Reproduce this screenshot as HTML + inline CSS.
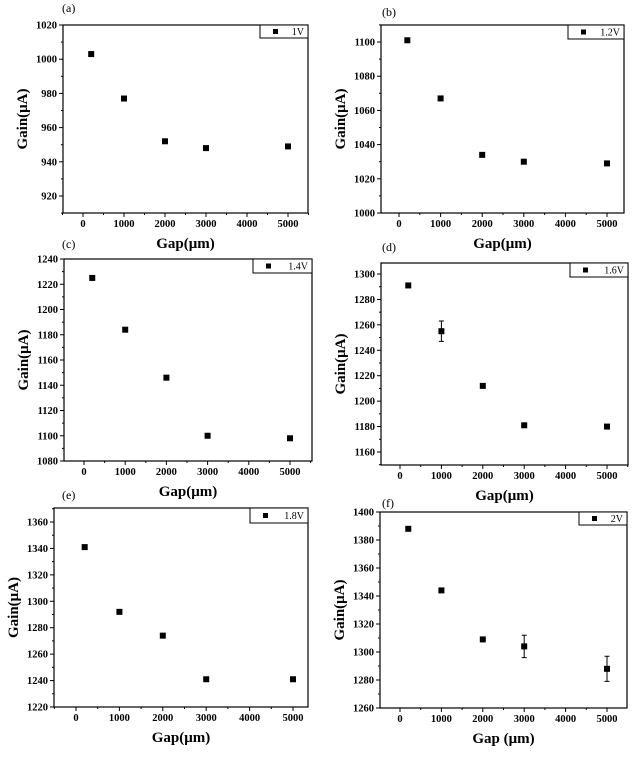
<!DOCTYPE html>
<html><head><meta charset="utf-8"><style>
html,body{margin:0;padding:0;background:#fff;}
svg text{font-family:"Liberation Serif",serif;}
</style></head><body>
<svg id="c" width="635" height="754" viewBox="0 0 635 754" xmlns="http://www.w3.org/2000/svg"></svg>
<script>
const gaps=[200,1000,2000,3000,5000];
const gainA=[1003,977,952,948,949];
const gainB=[1101,1067,1034,1030,1029];
const gainC=[1225,1184,1146,1100,1098];
const gainD=[1291,1255,1212,1181,1180];
const gainE=[1341,1292,1274,1241,1241];
const gainF=[1388,1344,1309,1304,1288];
const errD=[0,8,0,0,0];
const errF=[0,0,0,8,9];
const xTicks=[0,1000,2000,3000,4000,5000];
const ticksA=[920,940,960,980,1000,1020];
const ticksB=[1000,1020,1040,1060,1080,1100];
const ticksC=[1080,1100,1120,1140,1160,1180,1200,1220,1240];
const ticksD=[1160,1180,1200,1220,1240,1260,1280,1300];
const ticksE=[1220,1240,1260,1280,1300,1320,1340,1360];
const ticksF=[1260,1280,1300,1320,1340,1360,1380,1400];
const legends=['1V','1.2V','1.4V','1.6V','1.8V','2V'];
const labels=['(a)','(b)','(c)','(d)','(e)','(f)'];
const xTitles=['Gap(μm)','Gap(μm)','Gap(μm)','Gap(μm)','Gap(μm)','Gap (μm)'];
const panels=[
 {L:63,R:308,T:25,B:213,x0:83,x5:288,yv1:1020,yp1:25,yv2:920,yp2:196,data:gainA,err:null,ticks:ticksA,leg:[260,38],lab:[62,12],t:0},
 {L:381,R:624,T:25,B:213,x0:399,x5:607,yv1:1100,yp1:42,yv2:1000,yp2:213,data:gainB,err:null,ticks:ticksB,leg:[568,39],lab:[382,16],t:1},
 {L:64,R:312,T:259,B:461,x0:84,x5:290,yv1:1240,yp1:259,yv2:1080,yp2:461,data:gainC,err:null,ticks:ticksC,leg:[253,273],lab:[62,248],t:2},
 {L:381,R:628,T:263,B:465,x0:400,x5:607,yv1:1300,yp1:274,yv2:1160,yp2:452,data:gainD,err:errD,ticks:ticksD,leg:[570,277],lab:[382,251],t:3},
 {L:54,R:308,T:508,B:707,x0:76,x5:293,yv1:1360,yp1:522,yv2:1220,yp2:707,data:gainE,err:null,ticks:ticksE,leg:[250,523],lab:[62,499],t:4},
 {L:380,R:627,T:512,B:708,x0:400,x5:607,yv1:1400,yp1:512,yv2:1260,yp2:708,data:gainF,err:errF,ticks:ticksF,leg:[579,525],lab:[382,507],t:5}
];
const svg=document.getElementById('c');
const NS='http://www.w3.org/2000/svg';
function mk(tag,attrs,parent,text){const e=document.createElementNS(NS,tag);for(const k in attrs)e.setAttribute(k,attrs[k]);if(text!==undefined)e.textContent=text;parent.appendChild(e);return e;}
panels.forEach((p,i)=>{
 const g=mk('g',{},svg);
 
 
 const xs=v=>p.x0+(v/5000)*(p.x5-p.x0);
 const ys=v=>p.yp1+(v-p.yv1)*(p.yp2-p.yp1)/(p.yv2-p.yv1);
 const box=mk('rect',{x:p.L,y:p.T,width:p.R-p.L,height:p.B-p.T,fill:'none',stroke:'#000','stroke-width':1.2},g);
 
 
 // x ticks
 for(let v=-500;v<=5500;v+=500){const px=xs(v);if(px<p.L-0.5||px>p.R+0.5)continue;const major=v%1000===0;
  mk('line',{x1:px,x2:px,y1:p.B,y2:p.B+(major?4:2),stroke:'#000','stroke-width':1},g);}
 xTicks.forEach(v=>{const t=mk('text',{x:xs(v),y:p.B+14,'font-size':10.5,'font-weight':'bold','text-anchor':'middle'},g,String(v));
  
  });
 // y ticks
 const step=p.ticks[1]-p.ticks[0];
 for(let v=p.ticks[0]-step;v<=p.ticks[p.ticks.length-1]+step;v+=step/2){const py=ys(v);if(py<p.T-0.5||py>p.B+0.5)continue;const major=Math.round((v-p.ticks[0])/step*2)%2===0;
  mk('line',{x1:p.L,x2:p.L-(major?4:2),y1:py,y2:py,stroke:'#000','stroke-width':1},g);}
 p.ticks.forEach(v=>{const t=mk('text',{x:p.L-6,y:ys(v)+3.5,'font-size':10.5,'font-weight':'bold','text-anchor':'end'},g,String(v));
  
  });
 // titles
 const cy=(p.T+p.B)/2;
 const yt=mk('text',{x:0,y:0,'font-size':15,'font-weight':'bold','text-anchor':'middle',transform:`translate(${p.L-36},${cy}) rotate(-90)`},g,'Gain(μA)');
 
 
 const xt=mk('text',{x:(p.L+p.R)/2,y:p.B+35,'font-size':15,'font-weight':'bold','text-anchor':'middle'},g,xTitles[p.t]);
 
 
 const lb=mk('text',{x:p.lab[0],y:p.lab[1],'font-size':12},g,labels[p.t]);
 
 
 // legend
 const lg=mk('g',{},g);
 
 
 mk('rect',{x:p.leg[0],y:p.T,width:p.R-p.leg[0],height:p.leg[1]-p.T,fill:'#fff',stroke:'#000','stroke-width':1},lg);
 const lm=(p.T+p.leg[1])/2;
 mk('rect',{x:p.leg[0]+13,y:lm-2.5,width:5,height:5,fill:'#000'},lg);
 mk('text',{x:p.R-4,y:lm+3.5,'font-size':10,'text-anchor':'end'},lg,legends[p.t]);
 // points
 p.data.forEach((v,j)=>{const px=xs(gaps[j]),py=ys(v);
  if(p.err&&p.err[j]){const e1=ys(v+p.err[j]),e2=ys(v-p.err[j]);
   const eb=mk('path',{d:`M${px},${e1}V${e2}M${px-2.5},${e1}H${px+2.5}M${px-2.5},${e2}H${px+2.5}`,stroke:'#000','stroke-width':1,fill:'none'},g);
   
   }
  const m=mk('rect',{x:px-3,y:py-3,width:6,height:6,fill:'#000'},g);
  
  });
});
</script>
</body></html>
